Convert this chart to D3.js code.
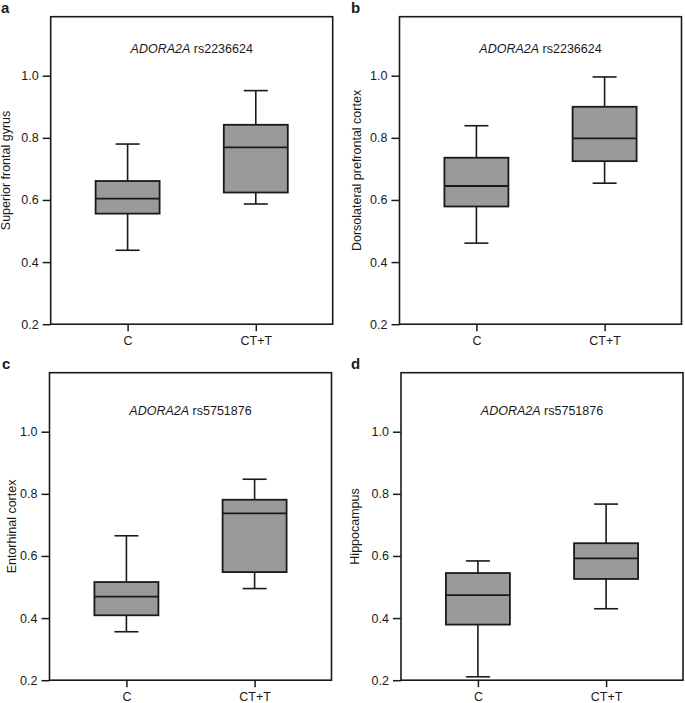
<!DOCTYPE html>
<html>
<head>
<meta charset="utf-8">
<script src="https://cdn.jsdelivr.net/npm/d3@7"></script>
<style>
  html, body { margin: 0; padding: 0; background: #fff; }
  svg { display: block; }
  text { font-family: "Liberation Sans", Arial, Helvetica, sans-serif; fill: #1a1a1a; }
</style>
</head>
<body>
<svg id="chart" width="685" height="703"></svg>
<script>
// ---- data ----
const categories = ["C", "CT+T"];
const panelLetters = ["a", "b", "c", "d"];
const regions = ["Superior frontal gyrus", "Dorsolateral prefrontal cortex", "Entorhinal cortex", "Hippocampus"];
const gene = "ADORA2A";
const snps = ["rs2236624", "rs2236624", "rs5751876", "rs5751876"];
const yTicks = [0.2, 0.4, 0.6, 0.8, 1.0];
const yDomain = [0.2, 1.19];
// per panel: [C, CT+T]
const whiskerLow  = [[0.438, 0.587], [0.461, 0.654], [0.356, 0.495], [0.211, 0.430]];
const q1          = [[0.556, 0.624], [0.579, 0.725], [0.409, 0.548], [0.379, 0.526]];
const median      = [[0.604, 0.769], [0.645, 0.798], [0.469, 0.737], [0.474, 0.592]];
const q3          = [[0.661, 0.842], [0.736, 0.900], [0.516, 0.781], [0.545, 0.641]];
const whiskerHigh = [[0.780, 0.952], [0.839, 0.996], [0.665, 0.847], [0.584, 0.767]];

// ---- layout ----
const svg = d3.select("#chart");
const W = 282, H = 307.5;
const origins = [[50.7, 16.7], [399.5, 16.7], [49.5, 372.7], [401, 372.7]];
const letterPos = [[1, 13], [351, 13], [2, 369], [351, 369]];
const ylabelX = [10, 361, 16, 359];
const titleDy = [36, 36, 42, 42];
const boxW = 64, capW = 24;
const ink = "#1a1a1a";

panelLetters.forEach((letter, i) => {
  const [ox, oy] = origins[i];
  const g = svg.append("g").attr("transform", `translate(${ox},${oy})`);

  const x = d3.scalePoint().domain(categories).range([0, W]).padding(0.6);
  const y = d3.scaleLinear().domain(yDomain).range([H, 0]);

  // axes
  const yAxis = d3.axisLeft(y).tickValues(yTicks).tickFormat(d3.format(".1f")).tickSize(8).tickPadding(4);
  const gy = g.append("g").call(yAxis);
  gy.select(".domain").remove();
  gy.selectAll("line").attr("stroke", ink).attr("stroke-width", 1.5);
  gy.selectAll("text").style("font-size", "12.5px").attr("fill", ink);

  const xAxis = d3.axisBottom(x).tickSize(7).tickPadding(5);
  const gx = g.append("g").attr("transform", `translate(0,${H})`).call(xAxis);
  gx.select(".domain").remove();
  gx.selectAll("line").attr("stroke", ink).attr("stroke-width", 1.5);
  gx.selectAll("text").style("font-size", "12.5px").attr("fill", ink);

  // boxes
  categories.forEach((c, j) => {
    const cx = x(c);
    const bg = g.append("g");
    // whiskers
    bg.append("line").attr("x1", cx).attr("x2", cx)
      .attr("y1", y(q3[i][j])).attr("y2", y(whiskerHigh[i][j]))
      .attr("stroke", ink).attr("stroke-width", 1.6);
    bg.append("line").attr("x1", cx).attr("x2", cx)
      .attr("y1", y(q1[i][j])).attr("y2", y(whiskerLow[i][j]))
      .attr("stroke", ink).attr("stroke-width", 1.6);
    bg.append("line").attr("x1", cx - capW / 2).attr("x2", cx + capW / 2)
      .attr("y1", y(whiskerHigh[i][j])).attr("y2", y(whiskerHigh[i][j]))
      .attr("stroke", ink).attr("stroke-width", 1.6);
    bg.append("line").attr("x1", cx - capW / 2).attr("x2", cx + capW / 2)
      .attr("y1", y(whiskerLow[i][j])).attr("y2", y(whiskerLow[i][j]))
      .attr("stroke", ink).attr("stroke-width", 1.6);
    // box
    bg.append("rect").attr("x", cx - boxW / 2).attr("width", boxW)
      .attr("y", y(q3[i][j])).attr("height", y(q1[i][j]) - y(q3[i][j]))
      .attr("fill", "#9a9a9a").attr("stroke", ink).attr("stroke-width", 1.8);
    bg.append("line").attr("x1", cx - boxW / 2).attr("x2", cx + boxW / 2)
      .attr("y1", y(median[i][j])).attr("y2", y(median[i][j]))
      .attr("stroke", ink).attr("stroke-width", 1.8);
  });

  // frame
  g.append("rect").attr("x", 0).attr("y", 0).attr("width", W).attr("height", H)
    .attr("fill", "none").attr("stroke", ink).attr("stroke-width", 1.6);

  // title
  const t = g.append("text").attr("x", W / 2).attr("y", titleDy[i])
    .attr("text-anchor", "middle").style("font-size", "12.5px");
  t.append("tspan").style("font-style", "italic").text(gene);
  t.append("tspan").text(" " + snps[i]);

  // y label
  svg.append("text")
    .attr("transform", `translate(${ylabelX[i]},${oy + H / 2}) rotate(-90)`)
    .attr("text-anchor", "middle").style("font-size", "12.5px")
    .text(regions[i]);

  // panel letter
  svg.append("text").attr("x", letterPos[i][0]).attr("y", letterPos[i][1])
    .style("font-size", "15px").style("font-weight", "bold").text(letter);
});
</script>
</body>
</html>
